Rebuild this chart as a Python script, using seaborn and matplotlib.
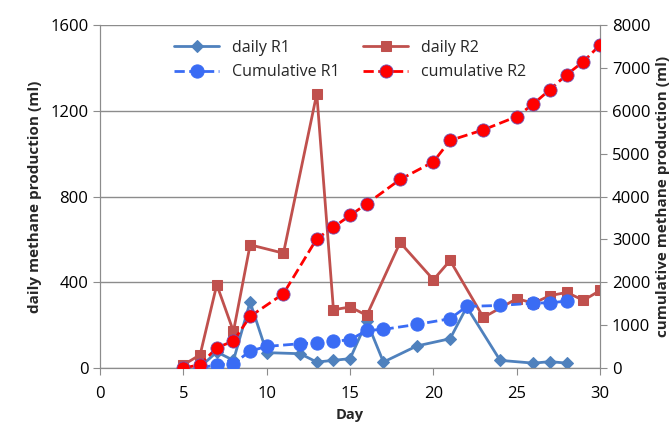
import matplotlib.pyplot as plt
import seaborn as sns

# daily methane (left axis, ml)
days_d1 = [6, 7, 8, 9, 10, 12, 13, 14, 15, 16, 17, 19, 21, 22, 24, 26, 27, 28]
daily_r1 = [5, 75, 36, 308, 72, 67, 28, 36, 44, 218, 28, 103, 137, 285, 36, 23, 30, 23]

days_d2 = [5, 6, 7, 8, 9, 11, 13, 14, 15, 16, 18, 20, 21, 23, 25, 26, 27, 28, 29, 30]
daily_r2 = [15, 62, 389, 171, 575, 536, 1280, 272, 285, 246, 586, 412, 502, 236, 324, 303, 338, 353, 316, 362]

# cumulative methane (right axis, ml)
days_c1 = [6, 7, 8, 9, 10, 12, 13, 14, 15, 16, 17, 19, 21, 22, 24, 26, 27, 28]
cum_r1 = [0, 80, 100, 396, 505, 568, 590, 622, 662, 878, 902, 1018, 1151, 1438, 1461, 1515, 1524, 1561]

days_c2 = [5, 6, 7, 8, 9, 11, 13, 14, 15, 16, 18, 20, 21, 23, 25, 26, 27, 28, 29, 30]
cum_r2 = [0, 80, 475, 630, 1205, 1735, 3017, 3288, 3560, 3833, 4400, 4812, 5310, 5558, 5868, 6164, 6498, 6847, 7150, 7540]

sns.set_style("white")
plt.rcParams['font.family'] = ['Open Sans', 'DejaVu Sans']

fig, ax = plt.subplots(figsize=(6.72, 4.26), dpi=100)
fig.subplots_adjust(left=0.149, right=0.893, top=0.941, bottom=0.136)

sns.lineplot(x=days_d1, y=daily_r1, ax=ax, color='#4F81BD', marker='D', markersize=6,
             markeredgecolor='#4F81BD', linewidth=2, label='daily R1', zorder=3)
sns.lineplot(x=days_d2, y=daily_r2, ax=ax, color='#C0504D', marker='s', markersize=7,
             markeredgecolor='#C0504D', linewidth=2, label='daily R2', zorder=3)

ax2 = ax.twinx()
sns.lineplot(x=days_c1, y=cum_r1, ax=ax2, color='#3A6CF4', marker='o', markersize=9.5,
             markeredgecolor='#3A6CF4', linewidth=2, linestyle='--', label='Cumulative R1', zorder=4)
sns.lineplot(x=days_c2, y=cum_r2, ax=ax2, color='#FF0000', marker='o', markersize=9.5,
             markeredgecolor='#7050B0', markeredgewidth=0.6, linewidth=2, linestyle='--',
             label='cumulative R2', zorder=4)

ax.set_xlim(0, 30)
ax.set_ylim(0, 1600)
ax2.set_ylim(0, 8000)
ax.set_xticks([0, 5, 10, 15, 20, 25, 30])
ax.set_yticks([0, 400, 800, 1200, 1600])
ax2.set_yticks([0, 1000, 2000, 3000, 4000, 5000, 6000, 7000, 8000])

ax.yaxis.grid(True, color='#8C8C8C', linewidth=1)
ax.set_axisbelow(True)

for a in (ax, ax2):
    a.spines['top'].set_visible(False)
    for s in ('left', 'right', 'bottom'):
        a.spines[s].set_color('#8C8C8C')
    a.tick_params(labelsize=12, colors='black', length=5, color='#8C8C8C')
ax.tick_params(axis='x', direction='out', bottom=True, pad=8)
ax.tick_params(axis='y', left=True, direction='out')
ax2.tick_params(axis='y', right=True, direction='out')

ax.set_xlabel('Day', fontsize=10.5, fontweight='bold', labelpad=4)
ax.set_ylabel('daily methane production (ml)', fontsize=11, fontweight='bold', labelpad=6)
ax2.set_ylabel('cumulative methane production (ml)', fontsize=11, fontweight='bold', labelpad=4)

h1, l1 = ax.get_legend_handles_labels()
h2, l2 = ax2.get_legend_handles_labels()
ax.get_legend().remove()
ax2.get_legend().remove()
handles = [h1[0], h2[0], h1[1], h2[1]]
labels = [l1[0], l2[0], l1[1], l2[1]]
ax2.legend(handles, labels, ncol=2, frameon=False, loc='upper center',
           bbox_to_anchor=(0.5, 1.0), fontsize=11.5, handlelength=2.8,
           columnspacing=1.5, labelspacing=0.55)

fig.savefig('out.png', dpi=100)
